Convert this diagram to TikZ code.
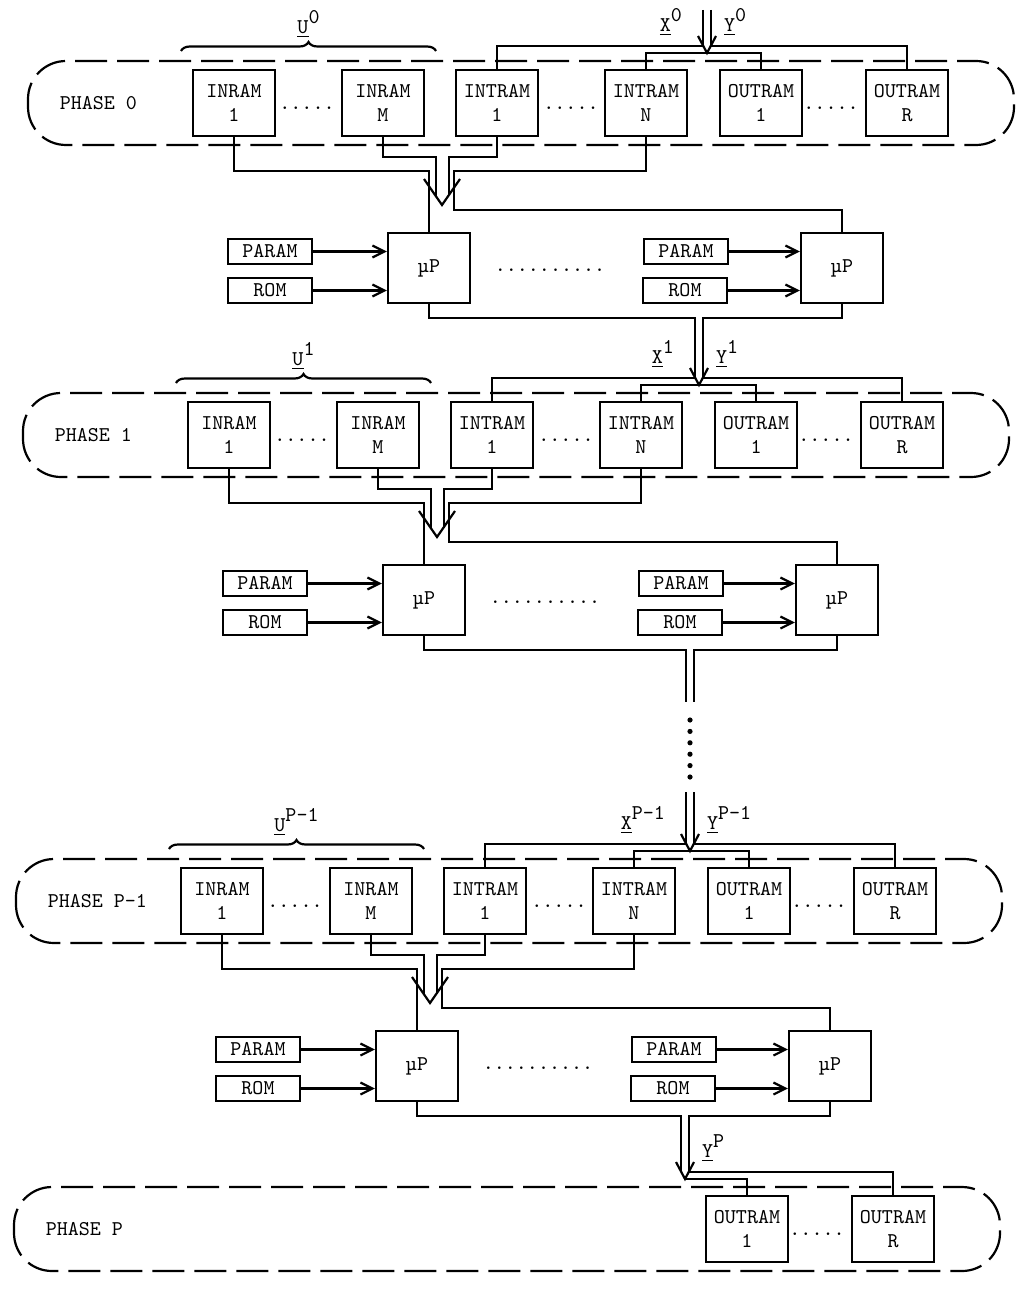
\documentclass[tikz,border=0pt]{standalone}
\usepackage{fontspec}
\usetikzlibrary{arrows.meta,decorations.pathreplacing}
\newcommand{\vsup}[2]{\underline{#1}\raisebox{1.1ex}{#2}}

\begin{document}
\begin{tikzpicture}[x=0.5pt,y=-0.5pt,line width=1.1pt,
  every node/.style={font=\fontsize{10.5}{12}\selectfont\ttfamily},
  ram/.style={draw,minimum width=41pt,minimum height=33pt,inner sep=2pt,align=center},
  cpu/.style={draw,minimum width=41pt,minimum height=35pt,inner sep=2pt},
  src/.style={draw,minimum width=42pt,minimum height=12.5pt,inner sep=1.5pt},
  phasebox/.style={draw,rounded corners=19pt,dash pattern=on 16pt off 5pt},
  vlabel/.style={inner sep=1pt},
  ubrace/.style={decorate,decoration={brace,amplitude=4.5pt}},
  ar/.style={-{Straight Barb[length=6pt,width=6pt]}}]
\useasboundingbox (0,0) rectangle (1030,1289);

% one phase row and its processor row, repeated
\foreach \k/\ph/\yc/\dx/\cx in {0/0/103/0/707,1/1/435/-5/704,2/P-1/901/-12/702}{
\begin{scope}[shift={(\dx,\yc)}]
  \draw[phasebox] (28,-42) rectangle (1014,42);
  \node[anchor=west] (ph\k) at (52,0) {PHASE \ph};
  \node[ram] (inA\k) at (234,0) {INRAM\\1};
  \node[ram] (inM\k) at (383,0) {INRAM\\M};
  \node[ram] (itA\k) at (497,0) {INTRAM\\1};
  \node[ram] (itN\k) at (646,0) {INTRAM\\N};
  \node[ram] (ouA\k) at (761,0) {OUTRAM\\1};
  \node[ram] (ouR\k) at (907,0) {OUTRAM\\R};
  \node (dI\k) at (307,5) {.....};
  \node (dT\k) at (571,5) {.....};
  \node (dO\k) at (831,5) {.....};
  \draw[ubrace] (181,-52) -- node[vlabel,above=5pt] (u\k) {\vsup{U}{\ph}} (436,-52);

  \coordinate (tip\k) at (\cx,-50);
  \coordinate (chL\k) at (\cx-4,-57);
  \coordinate (chR\k) at (\cx+4,-57);
  \draw (itN\k.north) |- (tip\k) -| (ouA\k.north);
  \draw (\cx-9,-67) -- (tip\k) -- (\cx+9,-67);
  \node[vlabel,anchor=south east] (x\k) at (\cx-22,-64) {\vsup{X}{\ph}};
  \node[vlabel,anchor=south west] (y\k) at (\cx+14,-64) {\vsup{Y}{\ph}};

  \node[cpu] (muA\k) at (429,165) {µP};
  \node[cpu] (muB\k) at (842,165) {µP};
  \node[src] (parA\k) at (270,148.5) {PARAM};
  \node[src] (romA\k) at (270,187.5) {ROM};
  \node[src] (parB\k) at (686,148.5) {PARAM};
  \node[src] (romB\k) at (685,187.5) {ROM};
  \node (dm\k) at (550,167) {..........};
  \foreach \s/\t in {parA/muA,romA/muA,parB/muB,romB/muB}
    \draw[ar] (\s\k.east) -- (\s\k.east -| \t\k.west);

  \draw (inA\k.south) |- (429,68) -- (muA\k.north);
  \draw (inM\k.south) |- (436,54) -- (436,93);
  \draw (itA\k.south) |- (449,54) -- (449,92);
  \draw (itN\k.south) |- (454,68) -- (454,107) -| (muB\k.north);
  \draw (424,76) -- (442,102) -- (460,76);
  \coordinate (busL\k) at (429,215);
  \coordinate (busR\k) at (842,215);
\end{scope}}

% last phase: outputs only
\begin{scope}[shift={(-14,1229)}]
  \draw[phasebox] (28,-42) rectangle (1014,42);
  \node[anchor=west] (phP) at (52,0) {PHASE P};
  \node[ram] (ouAP) at (761,0) {OUTRAM\\1};
  \node[ram] (ouRP) at (907,0) {OUTRAM\\R};
  \node (dOP) at (831,5) {.....};
  \coordinate (tipP) at (699,-50);
  \coordinate (chLP) at (695,-58);
  \coordinate (chRP) at (703,-57);
  \draw (tipP) -| (ouAP.north);
  \draw (690,-67) -- (tipP) -- (708,-67);
  \node[vlabel,anchor=south west] (yP) at (713,-64) {\vsup{Y}{P}};
\end{scope}

% channels between the phases
\coordinate (topL) at (703,10);
\coordinate (topR) at (711,10);
\draw (topL) -- (chL0) -| (itA0.north);
\draw (topR) -- (chR0) -| (ouR0.north);
\draw (muA0.south) |- (chL1 |- busL0) -- (chL1) -| (itA1.north);
\draw (muB0.south) |- (chR1 |- busR0) -- (chR1) -| (ouR1.north);
\draw (muA1.south) |- (chL2 |- busL1) -- ++(0,52);
\draw (muB1.south) |- (chR2 |- busR1) -- ++(0,52);
\foreach \i in {0,...,5} \fill (690,720+\i*11.4) circle (1.3pt);
\draw (chL2) ++(0,-52) -- (chL2) -| (itA2.north);
\draw (chR2) ++(0,-52) -- (chR2) -| (ouR2.north);
\draw (muA2.south) |- (chLP |- busL2) -- (chLP);
\draw (muB2.south) |- (chRP |- busR2) -- (chRP) -| (ouRP.north);
\end{tikzpicture}
\end{document}
